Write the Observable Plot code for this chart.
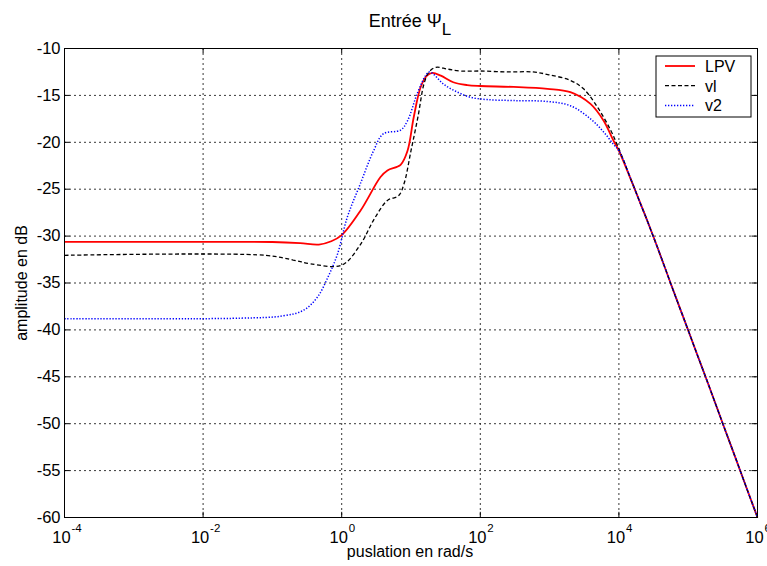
<!DOCTYPE html>
<html><head><meta charset="utf-8">
<script src="https://cdn.jsdelivr.net/npm/d3@7"></script>
<script src="https://cdn.jsdelivr.net/npm/@observablehq/plot@0.6"></script>
<style>
body{margin:0;background:#fff}
svg{font-family:"Liberation Sans",Arial,Helvetica,sans-serif}
</style>
</head><body><div id="chart"></div>
<script>
// ---- data (exponent of pulsation, amplitude in dB) ----
const lpvExp = [-4, -2, -1, -0.6, -0.33, -0.15, 0, 0.27, 0.56, 0.66, 0.85, 0.95, 1.04, 1.14, 1.23, 1.31, 1.43, 1.61, 1.81, 2.0, 2.48, 2.97, 3.3, 3.59, 3.78, 3.92, 4.0, 4.25, 4.5, 4.75, 5.0, 5.25, 5.5, 5.75, 6];
const lpvDb  = [-30.62, -30.62, -30.63, -30.75, -30.9, -30.55, -29.9, -27.3, -23.7, -23.0, -22.4, -20.9, -17.3, -14.1, -12.9, -12.6, -12.9, -13.6, -13.9, -14.0, -14.1, -14.3, -14.65, -15.9, -17.7, -19.8, -20.9, -25.4, -30.1, -35.1, -40.05, -45.0, -50.0, -55.0, -60];

const vlExp = [-4, -1.1, -0.7, -0.45, 0, 0.27, 0.46, 0.66, 0.82, 0.9, 1.0, 1.1, 1.19, 1.26, 1.36, 1.53, 1.72, 2.0, 2.39, 2.76, 2.99, 3.3, 3.49, 3.69, 3.88, 4.0, 4.25, 4.5, 4.75, 5.0, 5.25, 5.5, 5.75, 6];
const vlDb  = [-32.05, -32.05, -32.55, -32.95, -33.1, -30.9, -28.3, -26.2, -25.7, -24.4, -20.9, -17.3, -13.7, -12.5, -12.0, -12.2, -12.4, -12.4, -12.5, -12.5, -12.8, -13.4, -14.3, -16.25, -18.7, -20.7, -25.4, -30.1, -35.1, -40.05, -45.0, -50.0, -55.0, -60];

const v2Exp = [-4, -1.46, -0.84, -0.55, -0.35, -0.2, -0.06, 0.08, 0.27, 0.46, 0.6, 0.85, 0.95, 1.09, 1.21, 1.26, 1.32, 1.47, 1.67, 1.86, 2.1, 2.48, 2.97, 3.3, 3.59, 3.78, 3.92, 4.0, 4.25, 4.5, 4.75, 5.0, 5.25, 5.5, 5.75, 6];
const v2Db  = [-38.8, -38.75, -38.5, -37.9, -36.5, -34.4, -31.9, -28.0, -24.4, -20.9, -19.1, -18.7, -17.7, -14.8, -12.9, -12.5, -12.7, -13.8, -14.65, -15.2, -15.45, -15.55, -15.65, -16.1, -17.5, -18.9, -20.2, -20.9, -25.4, -30.1, -35.1, -40.05, -45.0, -50.0, -55.0, -60];

const seriesNames = ["LPV", "vl", "v2"];
const xTickExps = [-4, -2, 0, 2, 4, 6];
const xGridExps = [-2, 0, 2, 4];
const yTicks = [-10, -15, -20, -25, -30, -35, -40, -45, -50, -55, -60];
const titleText = "Entrée Ψ";
const titleSub = "L";
const xLabel = "puslation en rad/s";
const yLabel = "amplitude en dB";

// ---- build tables ----
const toRows = (ex, db) => ex.map((e, i) => ({w: 10 ** e, db: db[i]}));
const lpv = toRows(lpvExp, lpvDb);
const vl = toRows(vlExp, vlDb);
const v2 = toRows(v2Exp, v2Db);

const styles = [
  {stroke: "#ff0000", strokeWidth: 1.8, strokeDasharray: null},
  {stroke: "#000000", strokeWidth: 1.3, strokeDasharray: "4,2.5"},
  {stroke: "#0000ff", strokeWidth: 1.5, strokeDasharray: "1.3,1.7"}
];

const inner = yTicks.filter(d => d !== -10 && d !== -60);
const xMin = 1e-4, xMax = 1e6;
const lineOpts = {x: "w", y: "db", curve: "catmull-rom", strokeLinecap: "butt", strokeLinejoin: "miter"};

const plot = Plot.plot({
  width: 767,
  height: 566,
  marginLeft: 64,
  marginRight: 10,
  marginTop: 48,
  marginBottom: 49,
  x: {type: "log", domain: [xMin, xMax], axis: null},
  y: {domain: [-60, -10], axis: null},
  style: {background: "#fff", fontFamily: "Liberation Sans, Arial, sans-serif"},
  marks: [
    // grid
    Plot.ruleX(xGridExps, {x: d => 10 ** d, stroke: "#222", strokeWidth: 0.9, strokeDasharray: "2,3"}),
    Plot.ruleY(inner, {y: d => d, stroke: "#222", strokeWidth: 0.9, strokeDasharray: "2,3"}),
    // inner ticks (bottom/top)
    Plot.ruleX(xTickExps, {x: d => 10 ** d, y1: -60, y2: -59.45, stroke: "#000"}),
    Plot.ruleX(xTickExps, {x: d => 10 ** d, y1: -10, y2: -10.55, stroke: "#000"}),
    // inner ticks (left/right)
    Plot.ruleY(yTicks, {y: d => d, x1: xMin, x2: 10 ** -3.92, stroke: "#000"}),
    Plot.ruleY(yTicks, {y: d => d, x1: xMax, x2: 10 ** 5.92, stroke: "#000"}),
    // curves
    Plot.line(lpv, {...lineOpts, ...styles[0]}),
    Plot.line(vl, {...lineOpts, ...styles[1]}),
    Plot.line(v2, {...lineOpts, ...styles[2]}),
    Plot.frame({stroke: "#000", strokeWidth: 1}),
    // y tick labels
    Plot.text(yTicks, {x: xMin, y: d => d, text: d => String(d), textAnchor: "end", dx: -4, fontSize: 16.5, fill: "#000"}),
    // x tick labels: "10" + exponent
    Plot.text(xTickExps, {x: d => 10 ** d, y: -60, text: () => "10", dy: 20, dx: -3, fontSize: 16.5, fill: "#000"}),
    Plot.text(xTickExps, {x: d => 10 ** d, y: -60, text: d => String(d), dy: 11, dx: 7, textAnchor: "start", fontSize: 11.5, fill: "#000"})
  ]
});

const svg = d3.select(plot);
// title
const t = svg.append("text").attr("x", 410).attr("y", 27).attr("text-anchor", "middle")
  .attr("font-size", 18).attr("fill", "#000");
t.append("tspan").text(titleText);
t.append("tspan").attr("dy", 8).attr("font-size", 17).text(titleSub);
// axis labels
svg.append("text").attr("x", 410).attr("y", 557).attr("text-anchor", "middle")
  .attr("font-size", 16).attr("fill", "#000").text(xLabel);
svg.append("text").attr("transform", "translate(27,283) rotate(-90)").attr("text-anchor", "middle")
  .attr("font-size", 16).attr("fill", "#000").text(yLabel);
// legend
const lg = svg.append("g");
lg.append("rect").attr("x", 656).attr("y", 56).attr("width", 95).attr("height", 61)
  .attr("fill", "#fff").attr("stroke", "#000");
seriesNames.forEach((name, i) => {
  const y = 66 + i * 19.7;
  const s = styles[i];
  const ln = lg.append("line").attr("x1", 665).attr("x2", 695).attr("y1", y).attr("y2", y)
    .attr("stroke", s.stroke).attr("stroke-width", s.strokeWidth);
  if (s.strokeDasharray) ln.attr("stroke-dasharray", s.strokeDasharray);
  lg.append("text").attr("x", 705).attr("y", y + 6).attr("text-anchor", "start")
    .attr("font-size", 16).attr("fill", "#000").text(name);
});

document.getElementById("chart").append(plot);
</script>
</body></html>
